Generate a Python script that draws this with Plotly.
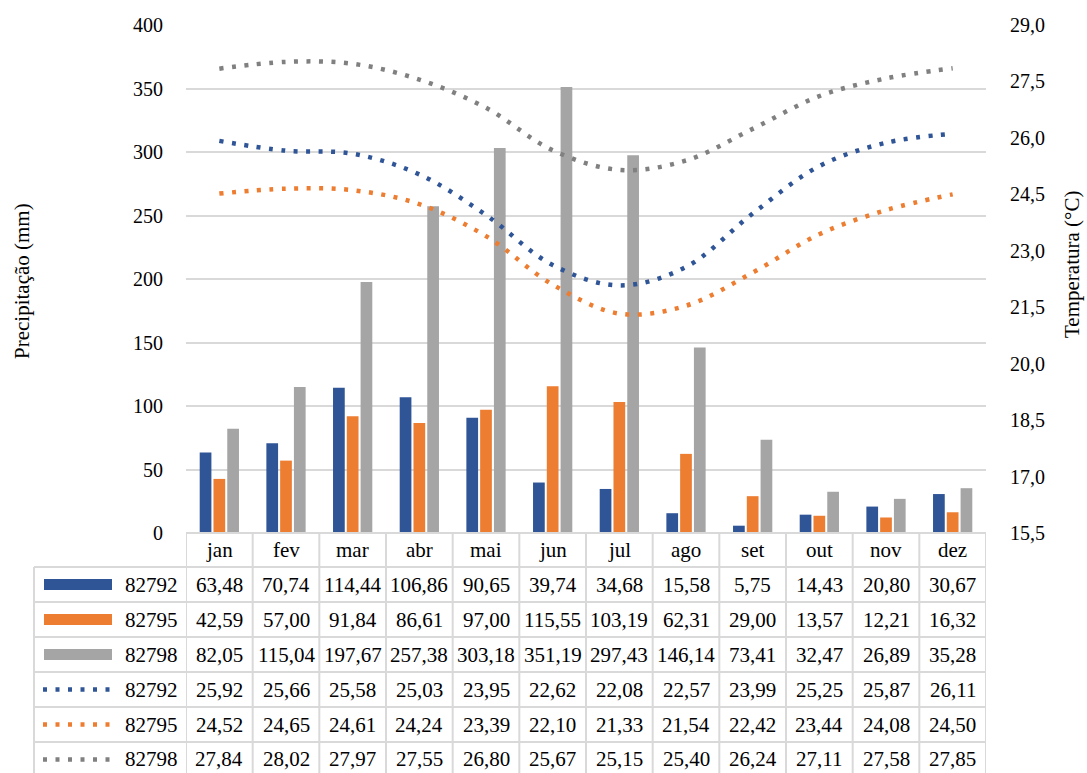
import plotly.graph_objects as go

# Monthly climatology for three stations
months = ["jan", "fev", "mar", "abr", "mai", "jun", "jul", "ago", "set", "out", "nov", "dez"]
stations = ["82792", "82795", "82798"]

precip_82792 = [63.48, 70.74, 114.44, 106.86, 90.65, 39.74, 34.68, 15.58, 5.75, 14.43, 20.80, 30.67]
precip_82795 = [42.59, 57.00, 91.84, 86.61, 97.00, 115.55, 103.19, 62.31, 29.00, 13.57, 12.21, 16.32]
precip_82798 = [82.05, 115.04, 197.67, 257.38, 303.18, 351.19, 297.43, 146.14, 73.41, 32.47, 26.89, 35.28]

temp_82792 = [25.92, 25.66, 25.58, 25.03, 23.95, 22.62, 22.08, 22.57, 23.99, 25.25, 25.87, 26.11]
temp_82795 = [24.52, 24.65, 24.61, 24.24, 23.39, 22.10, 21.33, 21.54, 22.42, 23.44, 24.08, 24.50]
temp_82798 = [27.84, 28.02, 27.97, 27.55, 26.80, 25.67, 25.15, 25.40, 26.24, 27.11, 27.58, 27.85]

precip_series = [precip_82792, precip_82795, precip_82798]
temp_series = [temp_82792, temp_82795, temp_82798]

bar_colors = ["#2F5597", "#ED7D31", "#A5A5A5"]
line_colors = ["#2F5597", "#ED7D31", "#808080"]

FONT = "'Liberation Serif', 'Times New Roman', 'DejaVu Serif', serif"
W, H = 1087, 773
ML, MR, MT, MB = 186, 101, 25, 240
PLOT_W = W - ML - MR
PLOT_H = H - MT - MB
DOTS = "4px,8.5px"
GRID = "#D9D9D9"


def px_x(x):
    return (x - ML) / PLOT_W


def px_y(y):
    return (H - MB - y) / PLOT_H


fig = go.Figure()

for name, vals, col in zip(stations, precip_series, bar_colors):
    fig.add_trace(go.Bar(x=months, y=vals, name=name, marker=dict(color=col, line=dict(width=0)),
                         yaxis="y", showlegend=False))

for name, vals, col in zip(stations, temp_series, line_colors):
    fig.add_trace(go.Scatter(x=months, y=vals, name=name, mode="lines", yaxis="y2",
                             line=dict(color=col, width=4.5, dash=DOTS, shape="spline", smoothing=1),
                             showlegend=False))

# ---- data table under the plot ----
shapes = []
annotations = []
line_style = dict(color=GRID, width=2)

header_top, header_bot = 533, 567
row_h = 35.0
n_rows = 6
row_edges = [header_bot + i * row_h for i in range(n_rows + 1)]
left_edge = 34

# header row borders (month columns only)
shapes.append(dict(type="line", xref="paper", yref="paper", x0=0, x1=1,
                   y0=px_y(header_top), y1=px_y(header_top), line=line_style))
for ye in row_edges:
    shapes.append(dict(type="line", xref="paper", yref="paper", x0=px_x(left_edge), x1=1,
                       y0=px_y(ye), y1=px_y(ye), line=line_style))
# vertical borders
for k in range(len(months) + 1):
    shapes.append(dict(type="line", xref="x", yref="paper", x0=k - 0.5, x1=k - 0.5,
                       y0=px_y(header_top), y1=px_y(H + 10), line=line_style))
shapes.append(dict(type="line", xref="paper", yref="paper", x0=px_x(left_edge), x1=px_x(left_edge),
                   y0=px_y(header_bot), y1=px_y(H + 10), line=line_style))

cell_font = dict(family=FONT, size=21, color="black")

for m in months:
    annotations.append(dict(x=m, y=px_y((header_top + header_bot) / 2), xref="x", yref="paper",
                            text=m, showarrow=False, font=cell_font, xanchor="center", yanchor="middle"))

table_rows = [(stations[i], precip_series[i], bar_colors[i], "bar") for i in range(3)] + \
             [(stations[i], temp_series[i], line_colors[i], "line") for i in range(3)]

for r, (name, vals, col, kind) in enumerate(table_rows):
    yc = (row_edges[r] + row_edges[r + 1]) / 2
    for m, v in zip(months, vals):
        txt = f"{v:.2f}".replace(".", ",")
        annotations.append(dict(x=m, y=px_y(yc), xref="x", yref="paper", text=txt, showarrow=False,
                                font=cell_font, xanchor="center", yanchor="middle"))
    annotations.append(dict(x=px_x(180), y=px_y(yc), xref="paper", yref="paper", text=name,
                            showarrow=False, font=cell_font, xanchor="right", yanchor="middle"))
    if kind == "bar":
        shapes.append(dict(type="rect", xref="paper", yref="paper", x0=px_x(44), x1=px_x(112),
                           y0=px_y(yc - 5.5), y1=px_y(yc + 5.5), fillcolor=col, line=dict(width=0)))
    else:
        shapes.append(dict(type="line", xref="paper", yref="paper", x0=px_x(43), x1=px_x(112),
                           y0=px_y(yc), y1=px_y(yc), line=dict(color=col, width=4.5, dash=DOTS)))

# axis titles
title_font = dict(family=FONT, size=21, color="black")
annotations.append(dict(x=px_x(22), y=px_y(281), xref="paper", yref="paper", text="Precipitação (mm)",
                        textangle=-90, showarrow=False, font=title_font, xanchor="center", yanchor="middle"))
annotations.append(dict(x=px_x(1072), y=px_y(265), xref="paper", yref="paper", text="Temperatura (°C)",
                        textangle=-90, showarrow=False, font=title_font, xanchor="center", yanchor="middle"))

tick_font = dict(family=FONT, size=20, color="black")

fig.update_layout(
    width=W, height=H,
    margin=dict(l=ML, r=MR, t=MT, b=MB, pad=0),
    paper_bgcolor="white", plot_bgcolor="white",
    separators=", ",
    barmode="group", bargap=0.38, bargroupgap=0.15,
    font=dict(family=FONT, color="black"),
    xaxis=dict(type="category", categoryorder="array", categoryarray=months, range=[-0.5, 11.5],
               showticklabels=False, showgrid=False, zeroline=False, showline=False, ticks=""),
    yaxis=dict(range=[0, 400], dtick=50, tick0=0, showgrid=True, gridcolor=GRID, gridwidth=1.5,
               zeroline=False, showline=False, ticks="outside", ticklen=18, tickcolor="rgba(0,0,0,0)",
               tickfont=tick_font),
    yaxis2=dict(range=[15.5, 29], dtick=1.5, tick0=15.5, tickformat=".1f", overlaying="y", side="right",
                showgrid=False, zeroline=False, showline=False, ticks="outside", ticklen=19,
                tickcolor="rgba(0,0,0,0)", tickfont=tick_font),
    shapes=shapes,
    annotations=annotations,
)

fig.write_html("out.html")
